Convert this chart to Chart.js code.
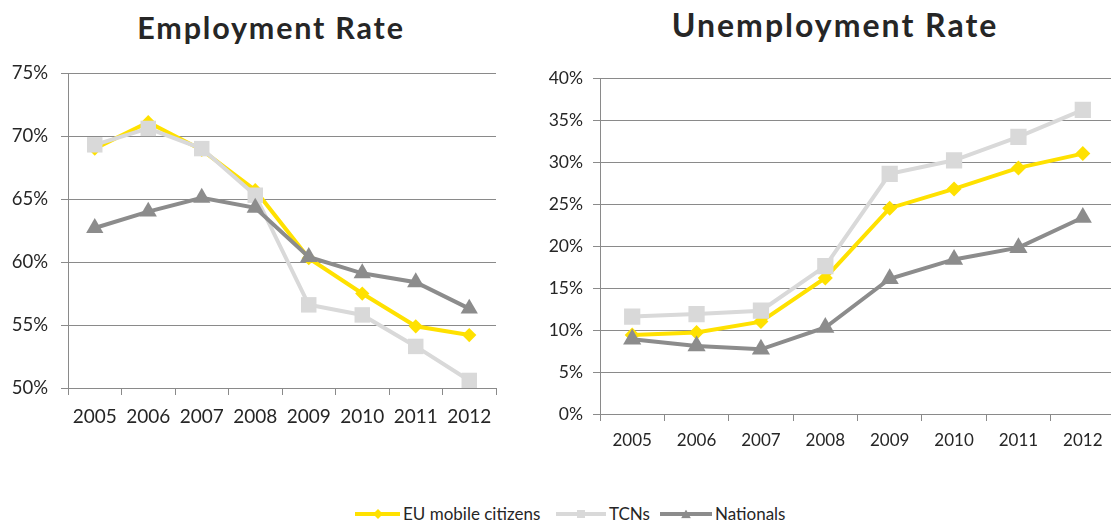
<!DOCTYPE html>
<html>
<head>
<meta charset="utf-8">
<script src="https://cdn.jsdelivr.net/npm/chart.js@4.4.1/dist/chart.umd.min.js"></script>
<style>
  html,body{margin:0;padding:0;background:#fff;overflow:hidden;width:1111px;height:522px;font-family:Lato,"Open Sans",sans-serif;color:#262626}
  .title{position:absolute;font-weight:bold;white-space:nowrap;transform:translateX(-50%);line-height:1}
  .box{position:absolute}
  .item{position:absolute;top:504px;display:flex;align-items:center;font-size:17px;white-space:nowrap;line-height:20px}
  .swatch{position:relative;height:4px;margin-right:3px}
  .swatch i{position:absolute;left:50%;top:50%;width:8px;height:8px;transform:translate(-50%,-50%)}
  .m-rectRot{transform:translate(-50%,-50%) rotate(45deg)!important;width:7px!important;height:7px!important}
  .m-triangle{clip-path:polygon(50% 0,100% 100%,0 100%);width:10px!important;height:9px!important}
</style>
</head>
<body>
<div class="title" style="left:271px;top:12px;font-size:30.5px;letter-spacing:1.8px">Employment Rate</div>
<div class="title" style="left:835px;top:9px;font-size:32px;letter-spacing:2px">Unemployment Rate</div>
<div class="box" style="left:0;top:0;width:520px;height:440px"><canvas id="cEmp"></canvas></div>
<div class="box" style="left:530px;top:0;width:600px;height:460px"><canvas id="cUnemp"></canvas></div>
<div id="legend"></div>
<script>
/* ---- data ---- */
const YEARS=['2005','2006','2007','2008','2009','2010','2011','2012'];
const SERIES=['EU mobile citizens','TCNs','Nationals'];

const EMP_EU =[69.0,71.1,68.9,65.7,60.3,57.5,54.9,54.2];
const EMP_TCN=[69.3,70.6,69.0,65.3,56.6,55.8,53.3,50.6];
const EMP_NAT=[62.7,64.0,65.1,64.3,60.4,59.1,58.4,56.3];

const UNEMP_EU =[9.4,9.7,11.0,16.2,24.5,26.8,29.3,31.0];
const UNEMP_TCN=[11.6,11.9,12.3,17.6,28.6,30.2,33.0,36.2];
const UNEMP_NAT=[8.9,8.1,7.7,10.3,16.1,18.4,19.8,23.4];

const EMP_TICKS={min:50,max:75,step:5};
const UNEMP_TICKS={min:0,max:40,step:5};

/* ---- style ---- */
const YELLOW='#FFE100', LIGHT='#D9D9D9', DARK='#8C8C8C', GRID='#8A8A8A', TXT='#262626';
const STYLE=[
  {color:YELLOW,point:'rectRot',r:7.5,order:2},
  {color:LIGHT,point:'rect',r:11.5,order:1},
  {color:DARK,point:'triangle',r:10.5,order:0}
];

function sets(arrs,scale){
  return arrs.map((d,i)=>({
    label:SERIES[i],data:d,order:STYLE[i].order,
    borderColor:STYLE[i].color,backgroundColor:STYLE[i].color,borderWidth:4,
    pointStyle:STYLE[i].point,pointRadius:STYLE[i].r*scale,pointBorderWidth:0,
    pointBackgroundColor:STYLE[i].color,tension:0
  }));
}

function build(id,arrs,t,g){
  return new Chart(document.getElementById(id),{
    type:'line',
    data:{labels:YEARS,datasets:sets(arrs,g.ms)},
    options:{
      responsive:true,maintainAspectRatio:false,animation:false,
      layout:{padding:{top:g.top,right:g.right,left:0,bottom:0}},
      plugins:{legend:{display:false},tooltip:{enabled:false},title:{display:false}},
      scales:{
        x:{offset:true,
          grid:{offset:true,drawOnChartArea:false,drawTicks:true,tickLength:7,color:GRID,lineWidth:1},
          border:{display:false},
          ticks:{color:TXT,font:{family:'Lato',size:g.xf},padding:g.xpad,maxRotation:0,autoSkip:false},
          afterFit:s=>{s.height=g.xh;}
        },
        y:{min:t.min,max:t.max,
          grid:{color:GRID,lineWidth:1,drawTicks:true,tickLength:7},
          border:{display:true,color:GRID,width:1},
          ticks:{stepSize:t.step,color:TXT,font:{family:'Lato',size:g.yf},padding:g.ypad,callback:v=>v+'%'},
          afterFit:s=>{s.width=g.yw;}
        }
      }
    }
  });
}

build('cEmp',[EMP_EU,EMP_TCN,EMP_NAT],EMP_TICKS,
  {top:73,right:24,yw:68,xh:52,xf:19,yf:18.5,xpad:10,ypad:13,ms:0.95});
build('cUnemp',[UNEMP_EU,UNEMP_TCN,UNEMP_NAT],UNEMP_TICKS,
  {top:78,right:15,yw:70,xh:46,xf:17,yf:17.5,xpad:9,ypad:10,ms:1});

/* ---- legend ---- */
const LEG_X=[355,556,660], LEG_W=[45,50,52];
const lg=document.getElementById('legend');
SERIES.forEach((name,i)=>{
  const it=document.createElement('div'); it.className='item';
  it.style.left=LEG_X[i]+'px';
  const sw=document.createElement('span'); sw.className='swatch';
  sw.style.width=LEG_W[i]+'px'; sw.style.background=STYLE[i].color;
  const mk=document.createElement('i'); mk.className='m-'+STYLE[i].point;
  mk.style.background=STYLE[i].color; sw.appendChild(mk);
  const tx=document.createElement('span'); tx.textContent=name;
  it.appendChild(sw); it.appendChild(tx); lg.appendChild(it);
});
</script>
</body>
</html>
